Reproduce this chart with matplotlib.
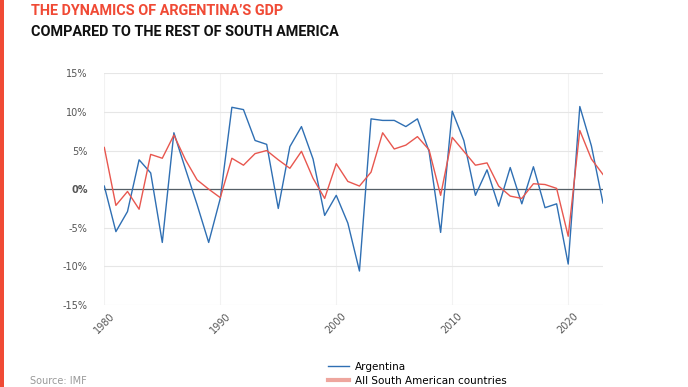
import matplotlib
matplotlib.use("Agg")
import matplotlib.pyplot as plt
from matplotlib.lines import Line2D
from matplotlib.patches import Rectangle

years = list(range(1980, 2024))
argentina = [0.4, -5.5, -2.9, 3.8, 2.1, -6.9, 7.3, 2.6, -2.0, -6.9,
             -1.2, 10.6, 10.3, 6.3, 5.8, -2.5, 5.5, 8.1, 3.9, -3.4,
             -0.8, -4.4, -10.6, 9.1, 8.9, 8.9, 8.1, 9.1, 4.9, -5.6,
             10.1, 6.3, -0.8, 2.5, -2.2, 2.8, -1.9, 2.9, -2.4, -1.9,
             -9.7, 10.7, 5.6, -1.8]
south_america = [5.4, -2.1, -0.3, -2.6, 4.5, 4.0, 7.0, 3.8, 1.2, 0.0,
                 -1.1, 4.0, 3.1, 4.6, 5.0, 3.8, 2.7, 4.9, 1.4, -1.2,
                 3.3, 1.0, 0.4, 2.2, 7.3, 5.2, 5.7, 6.8, 5.1, -0.8,
                 6.7, 4.9, 3.1, 3.4, 0.4, -0.9, -1.2, 0.7, 0.6, 0.1,
                 -6.1, 7.6, 3.9, 1.9]
yticks = [-15, -10, -5, 0, 5, 10, 15]
ytick_labels = ["-15%", "-10%", "-5%", "0%", "5%", "10%", "15%"]
xticks = [1980, 1990, 2000, 2010, 2020]
series_names = ["Argentina", "All South American countries"]
title1 = "THE DYNAMICS OF ARGENTINA’S GDP"
title2 = "COMPARED TO THE REST OF SOUTH AMERICA"
source = "Source: IMF"

BLUE = "#2f6fb3"
RED = "#e8574f"
ACCENT = "#f04a35"
TITLE_FONT = ["Roboto", "DejaVu Sans"]

fig = plt.figure(figsize=(6.88, 3.87), dpi=100)
fig.patch.set_facecolor("white")

# left accent bar
fig.add_artist(Rectangle((0, 0), 4/688, 1, transform=fig.transFigure,
                         color=ACCENT, lw=0))

fig.text(31/688, 1 - 11/387, title1, color=ACCENT, fontsize=10.4,
         fontweight="bold", family=TITLE_FONT, va="center", ha="left")
fig.text(31/688, 1 - 31.5/387, title2, color="#111111", fontsize=10.4,
         fontweight="bold", family=TITLE_FONT, va="center", ha="left")

ax = fig.add_axes([104.3/688, 1 - 305/387, (603 - 104.3)/688, (305 - 73.3)/387])
ax.plot(years, argentina, color=BLUE, lw=1.0, zorder=3)
ax.plot(years, south_america, color=RED, lw=1.0, zorder=3)
ax.axhline(0, color="#555f66", lw=0.9, zorder=2)

ax.set_xlim(1980, 2023)
ax.set_ylim(-15, 15)
ax.set_yticks(yticks)
ax.set_yticklabels(ytick_labels)
ax.set_xticks(xticks)
ax.set_xticklabels([str(x) for x in xticks], rotation=45, ha="center")
for lbl in ax.get_yticklabels():
    lbl.set_fontweight("bold" if lbl.get_text() == "0%" else "normal")
ax.tick_params(axis="both", length=0, labelsize=7, labelcolor="#555555")
ax.tick_params(axis="y", pad=12)
ax.tick_params(axis="x", pad=4)
ax.grid(True, axis="y", color="#e6e6e6", lw=0.8)
ax.grid(True, axis="x", color="#f2f2f2", lw=0.8)
ax.set_axisbelow(True)
for s in ax.spines.values():
    s.set_visible(False)

handles = [Line2D([], [], color=BLUE, lw=1.0),
           Line2D([], [], color="#eea69e", lw=3.0)]
fig.legend(handles, series_names, loc="upper left",
           bbox_to_anchor=(328/688, 1 - 362/387), frameon=False,
           fontsize=7.5, handlelength=2.0, handletextpad=0.6,
           labelspacing=0.35, borderpad=0, borderaxespad=0)

fig.text(30/688, 1 - 381/387, source, color="#999999", fontsize=7,
         va="center", ha="left")

fig.savefig("out.png", dpi=100, facecolor="white")
